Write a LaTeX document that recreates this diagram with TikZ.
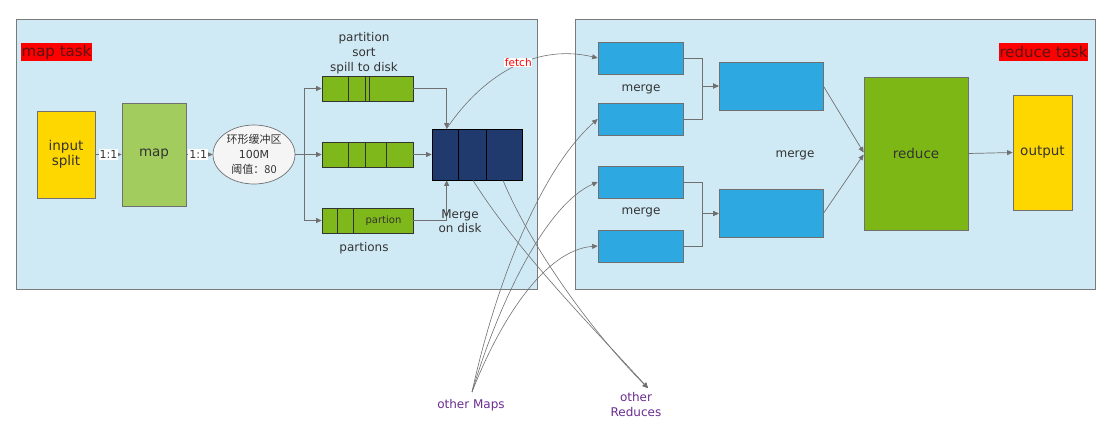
\documentclass[tikz,border=0pt]{standalone}
\usepackage{fontspec}
\setmainfont{DejaVu Sans}
\newfontfamily\cjk{Noto Sans CJK SC}
\usetikzlibrary{arrows.meta,shapes.geometric}
\definecolor{contfill}{HTML}{D0EAF5}
\definecolor{contline}{HTML}{7A7A7A}
\definecolor{linegray}{HTML}{707070}
\definecolor{txtgray}{HTML}{333333}
\definecolor{yel}{HTML}{FFD700}
\definecolor{mapgreen}{HTML}{A2CD5E}
\definecolor{spillgreen}{HTML}{7FB81A}
\definecolor{navy}{HTML}{203A6E}
\definecolor{bluebox}{HTML}{2DA8E0}
\definecolor{redgreen}{HTML}{7DB715}
\definecolor{purp}{HTML}{6A2C90}
\definecolor{tasktext}{HTML}{5A1414}
\tikzset{
  container/.style={draw=contline, fill=contfill, line width=0.9pt, minimum width=#1, minimum height=270pt, inner sep=0pt},
  tasklabel/.style={fill=red, text=tasktext, inner sep=0pt, minimum height=18pt, font=\fontsize{15}{17}\selectfont},
  boxnode/.style={draw=linegray, line width=0.7pt, inner sep=0pt, text=txtgray},
  f13/.style={font=\fontsize{13.5}{16}\selectfont},
  lbl/.style={text=txtgray, font=\fontsize{12}{15}\selectfont, align=center, inner sep=0pt},
  conn/.style={draw=linegray, line width=0.7pt, -{Triangle[length=5.5pt,width=5pt]}},
  plain/.style={draw=linegray, line width=0.7pt},
  ratio/.style={fill=white, text=txtgray, inner sep=1pt, font=\fontsize{11}{12}\selectfont},
  spill/.style={draw=black!80, fill=spillgreen, line width=0.7pt, minimum width=91pt, minimum height=25pt, inner sep=0pt},
  divider/.style={draw=black!80, line width=0.7pt},
  smallblue/.style={boxnode, fill=bluebox, minimum width=85pt, minimum height=32pt},
  bigblue/.style={boxnode, fill=bluebox, minimum width=104pt, minimum height=48pt},
  purptext/.style={text=purp, font=\fontsize{12}{15}\selectfont, align=center, inner sep=1pt},
}
\begin{document}
\begin{tikzpicture}[x=1pt, y=-1pt]
\useasboundingbox (0,0) rectangle (1112,432);
% containers
\node[container=521pt] (mapc) at (276.5,154) {};
\node[container=520pt] (redc) at (835,154) {};
\node[tasklabel, minimum width=71pt] (mtask) at (56.5,52) {map task};
\node[tasklabel, minimum width=89pt] (rtask) at (1043.5,52) {reduce task};
% map side
\node[boxnode, fill=yel, minimum width=58pt, minimum height=87pt, f13, align=center] (input) at (66,154.5) {input\\[-1pt]split};
\node[boxnode, fill=mapgreen, minimum width=64pt, minimum height=103pt, f13] (map) at (154,154.5) {map};
\node[ellipse, draw=linegray, line width=0.7pt, fill=white!92!gray, minimum width=82pt, minimum height=59pt, inner sep=0pt, align=center, text=txtgray, font=\fontsize{11}{15}\selectfont] (buf) at (254,154.5) {\cjk 环形缓冲区\\100M\\\cjk 阈值：80};
\draw[conn] (input.east) -- node[ratio] {1:1} (map.west);
\draw[conn] (map.east) -- node[ratio, pos=0.45] {1:1} (buf.west);
% spill boxes
\node[spill] (sp1) at (367.5,88.5) {};
\node[spill] (sp2) at (367.5,154.5) {};
\node[spill] (sp3) at (367.5,220.5) {};
\draw[divider] ([xshift=27pt]sp1.north west) -- ([xshift=27pt]sp1.south west);
\draw[divider] ([xshift=44pt]sp1.north west) -- ([xshift=44pt]sp1.south west);
\draw[divider] ([xshift=48pt]sp1.north west) -- ([xshift=48pt]sp1.south west);
\draw[divider] ([xshift=27pt]sp2.north west) -- ([xshift=27pt]sp2.south west);
\draw[divider] ([xshift=44pt]sp2.north west) -- ([xshift=44pt]sp2.south west);
\draw[divider] ([xshift=65pt]sp2.north west) -- ([xshift=65pt]sp2.south west);
\draw[divider] ([xshift=16pt]sp3.north west) -- ([xshift=16pt]sp3.south west);
\draw[divider] ([xshift=32pt]sp3.north west) -- ([xshift=32pt]sp3.south west);
\node[text=txtgray, font=\fontsize{10}{12}\selectfont, inner sep=0pt] (partion) at (383.5,220.5) {partion};
\coordinate (branch) at (304,154.5);
\draw[plain] (buf.east) -- (branch);
\draw[conn] (branch) |- (sp1.west);
\draw[conn] (branch) -- (sp2.west);
\draw[conn] (branch) |- (sp3.west);
\node[lbl] (pst) at (364,53) {partition\\sort\\spill to disk};
\node[lbl] (partions) at (364,248) {partions};
% disk
\node[draw=black, fill=navy, line width=0.7pt, minimum width=90pt, minimum height=51pt, inner sep=0pt] (disk) at (477,154.5) {};
\draw[draw=black, line width=0.7pt] ([xshift=27pt]disk.north west) -- ([xshift=27pt]disk.south west);
\draw[draw=black, line width=0.7pt] ([xshift=55pt]disk.north west) -- ([xshift=55pt]disk.south west);
\draw[conn] (sp1.east) -| ([xshift=15pt]disk.north west);
\draw[conn] (sp2.east) -- (disk.west);
\draw[conn] (sp3.east) -| ([xshift=15pt]disk.south west);
\node[lbl, align=center, font=\fontsize{12}{14}\selectfont] (mod) at (460,221) {Merge\\on disk};
% reduce side
\node[smallblue] (b1) at (640.5,58) {};
\node[smallblue] (b2) at (640.5,119) {};
\node[smallblue] (b3) at (640.5,182) {};
\node[smallblue] (b4) at (640.5,246) {};
\node[lbl] (m1) at (641,89) {merge};
\node[lbl] (m2) at (641,212) {merge};
\node[bigblue] (ba) at (771,86) {};
\node[bigblue] (bb) at (771,213.5) {};
\node[lbl] (m3) at (795,155) {merge};
\node[boxnode, fill=redgreen, minimum width=104pt, minimum height=153pt, f13] (reduce) at (916,153.5) {reduce};
\node[boxnode, fill=yel, minimum width=59pt, minimum height=115pt, f13] (output) at (1042.5,152.5) {output};
\draw[conn] (b1.east) -- ++(19,0) |- (ba.west);
\draw[conn] (b2.east) -- ++(19,0) |- (ba.west);
\draw[conn] (b3.east) -- ++(19,0) |- (bb.west);
\draw[conn] (b4.east) -- ++(19,0) |- (bb.west);
\draw[conn] (ba.east) -- ([yshift=1pt]reduce.west);
\draw[conn] (bb.east) -- ([yshift=-1pt]reduce.west);
\draw[conn] (reduce.east) -- (output.west);
% others
\node[purptext] (omaps) at (471,405) {other Maps};
\node[purptext] (ored) at (636,404.5) {other\\Reduces};
\coordinate (omstart) at ([xshift=1pt,yshift=6pt]omaps.north);
\coordinate (orend) at ([xshift=12pt,yshift=3pt]ored.north);
\draw[conn, line width=0.6pt] ([xshift=15pt]disk.north west) .. controls (478,82) and (530,42) .. node[pos=0.6, xshift=-6pt, fill=white, text=red, inner sep=0.5pt, font=\fontsize{10.5}{12}\selectfont] {fetch} (b1.west);
\draw[conn, line width=0.6pt] (omstart) .. controls (492,300) and (535,175) .. (b2.west);
\draw[conn, line width=0.6pt] (omstart) .. controls (498,305) and (545,205) .. (b3.west);
\draw[conn, line width=0.6pt] (omstart) .. controls (500,320) and (545,250) .. (b4.west);
\draw[conn, line width=0.6pt] ([xshift=-4pt]disk.south) .. controls (520,255) and (600,335) .. (orend);
\draw[conn, line width=0.6pt] ([xshift=26pt]disk.south) .. controls (530,245) and (590,330) .. (orend);
\end{tikzpicture}
\end{document}
